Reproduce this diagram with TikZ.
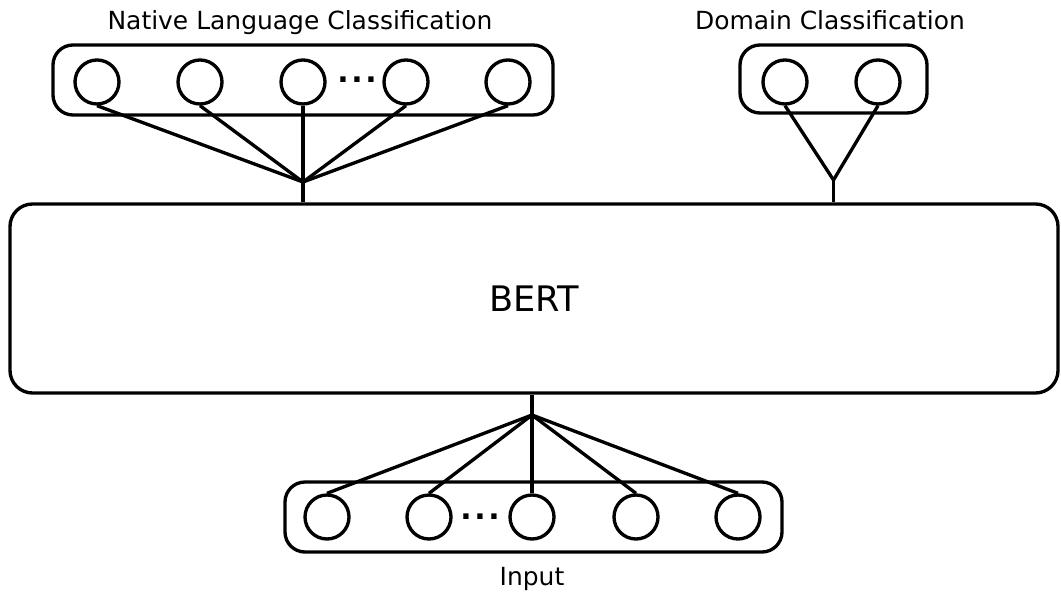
\documentclass[tikz,border=0pt]{standalone}
\usepackage{fontspec}
\setmainfont{DejaVu Sans}
\usetikzlibrary{calc}
\tikzset{
    group/.style={draw, line width=1.9pt, rounded corners=0.4cm, inner sep=0pt},
    unit/.style={circle, draw, line width=1.9pt, minimum size=0.88cm, inner sep=0pt},
    encoder/.style={draw, line width=1.9pt, rounded corners=0.45cm,
                    minimum width=20.96cm, minimum height=3.78cm,
                    font=\fontsize{20}{24}\selectfont},
    link/.style={line width=1.9pt},
    caption/.style={font=\fontsize{14.2}{17}\selectfont, anchor=base},
    gap/.style={font=\fontsize{17}{20}\selectfont\bfseries, inner sep=0pt},
}

\begin{document}
\begin{tikzpicture}
    \useasboundingbox (0,0) rectangle (21.22,11.86);

    % encoder in the middle
    \node[encoder] (bert) at (10.68,5.89) {BERT};

    % native language head
    \node[group, minimum width=10cm, minimum height=1.4cm] (nlgroup) at (6.06,10.26) {};
    \node[caption] (nlcap) at (6.0,11.26) {Native Language Classification};
    \node[unit] (nl1) at (1.94,10.22) {};
    \node[unit] (nl2) at (4.00,10.22) {};
    \node[unit] (nl3) at (6.06,10.22) {};
    \node[unit] (nl4) at (8.12,10.22) {};
    \node[unit] (nl5) at (10.16,10.22) {};
    \node[gap] (nldots) at (7.14,10.26) {.\kern1.5pt.\kern1.5pt.};
    \coordinate (nljoin) at (6.06,8.22);
    \draw[link] (nl1.south) -- (nljoin);
    \draw[link] (nl2.south) -- (nljoin);
    \draw[link] (nl3.south) -- (nljoin);
    \draw[link] (nl4.south) -- (nljoin);
    \draw[link] (nl5.south) -- (nljoin);
    \draw[link] (nljoin) -- (nljoin |- bert.north);

    % domain head
    \node[group, minimum width=3.74cm, minimum height=1.36cm] (dgroup) at (16.67,10.28) {};
    \node[caption] (dcap) at (16.6,11.26) {Domain Classification};
    \node[unit] (d1) at (15.70,10.22) {};
    \node[unit] (d2) at (17.56,10.22) {};
    \coordinate (djoin) at (16.67,8.26);
    \draw[link] (d1.south) -- (djoin);
    \draw[link] (d2.south) -- (djoin);
    \draw[link] (djoin) -- (djoin |- bert.north);

    % input tokens
    \node[group, minimum width=9.94cm, minimum height=1.4cm] (ingroup) at (10.67,1.52) {};
    \node[caption] (incap) at (10.64,0.16) {Input};
    \node[unit] (in1) at (6.54,1.52) {};
    \node[unit] (in2) at (8.58,1.52) {};
    \node[unit] (in3) at (10.64,1.52) {};
    \node[unit] (in4) at (12.72,1.52) {};
    \node[unit] (in5) at (14.76,1.52) {};
    \node[gap] (indots) at (9.6,1.52) {.\kern1.5pt.\kern1.5pt.};
    \coordinate (injoin) at (10.64,3.56);
    \draw[link] (injoin) -- (in1.north);
    \draw[link] (injoin) -- (in2.north);
    \draw[link] (injoin) -- (in3.north);
    \draw[link] (injoin) -- (in4.north);
    \draw[link] (injoin) -- (in5.north);
    \draw[link] (bert.south -| injoin) -- (injoin);

\end{tikzpicture}
\end{document}
